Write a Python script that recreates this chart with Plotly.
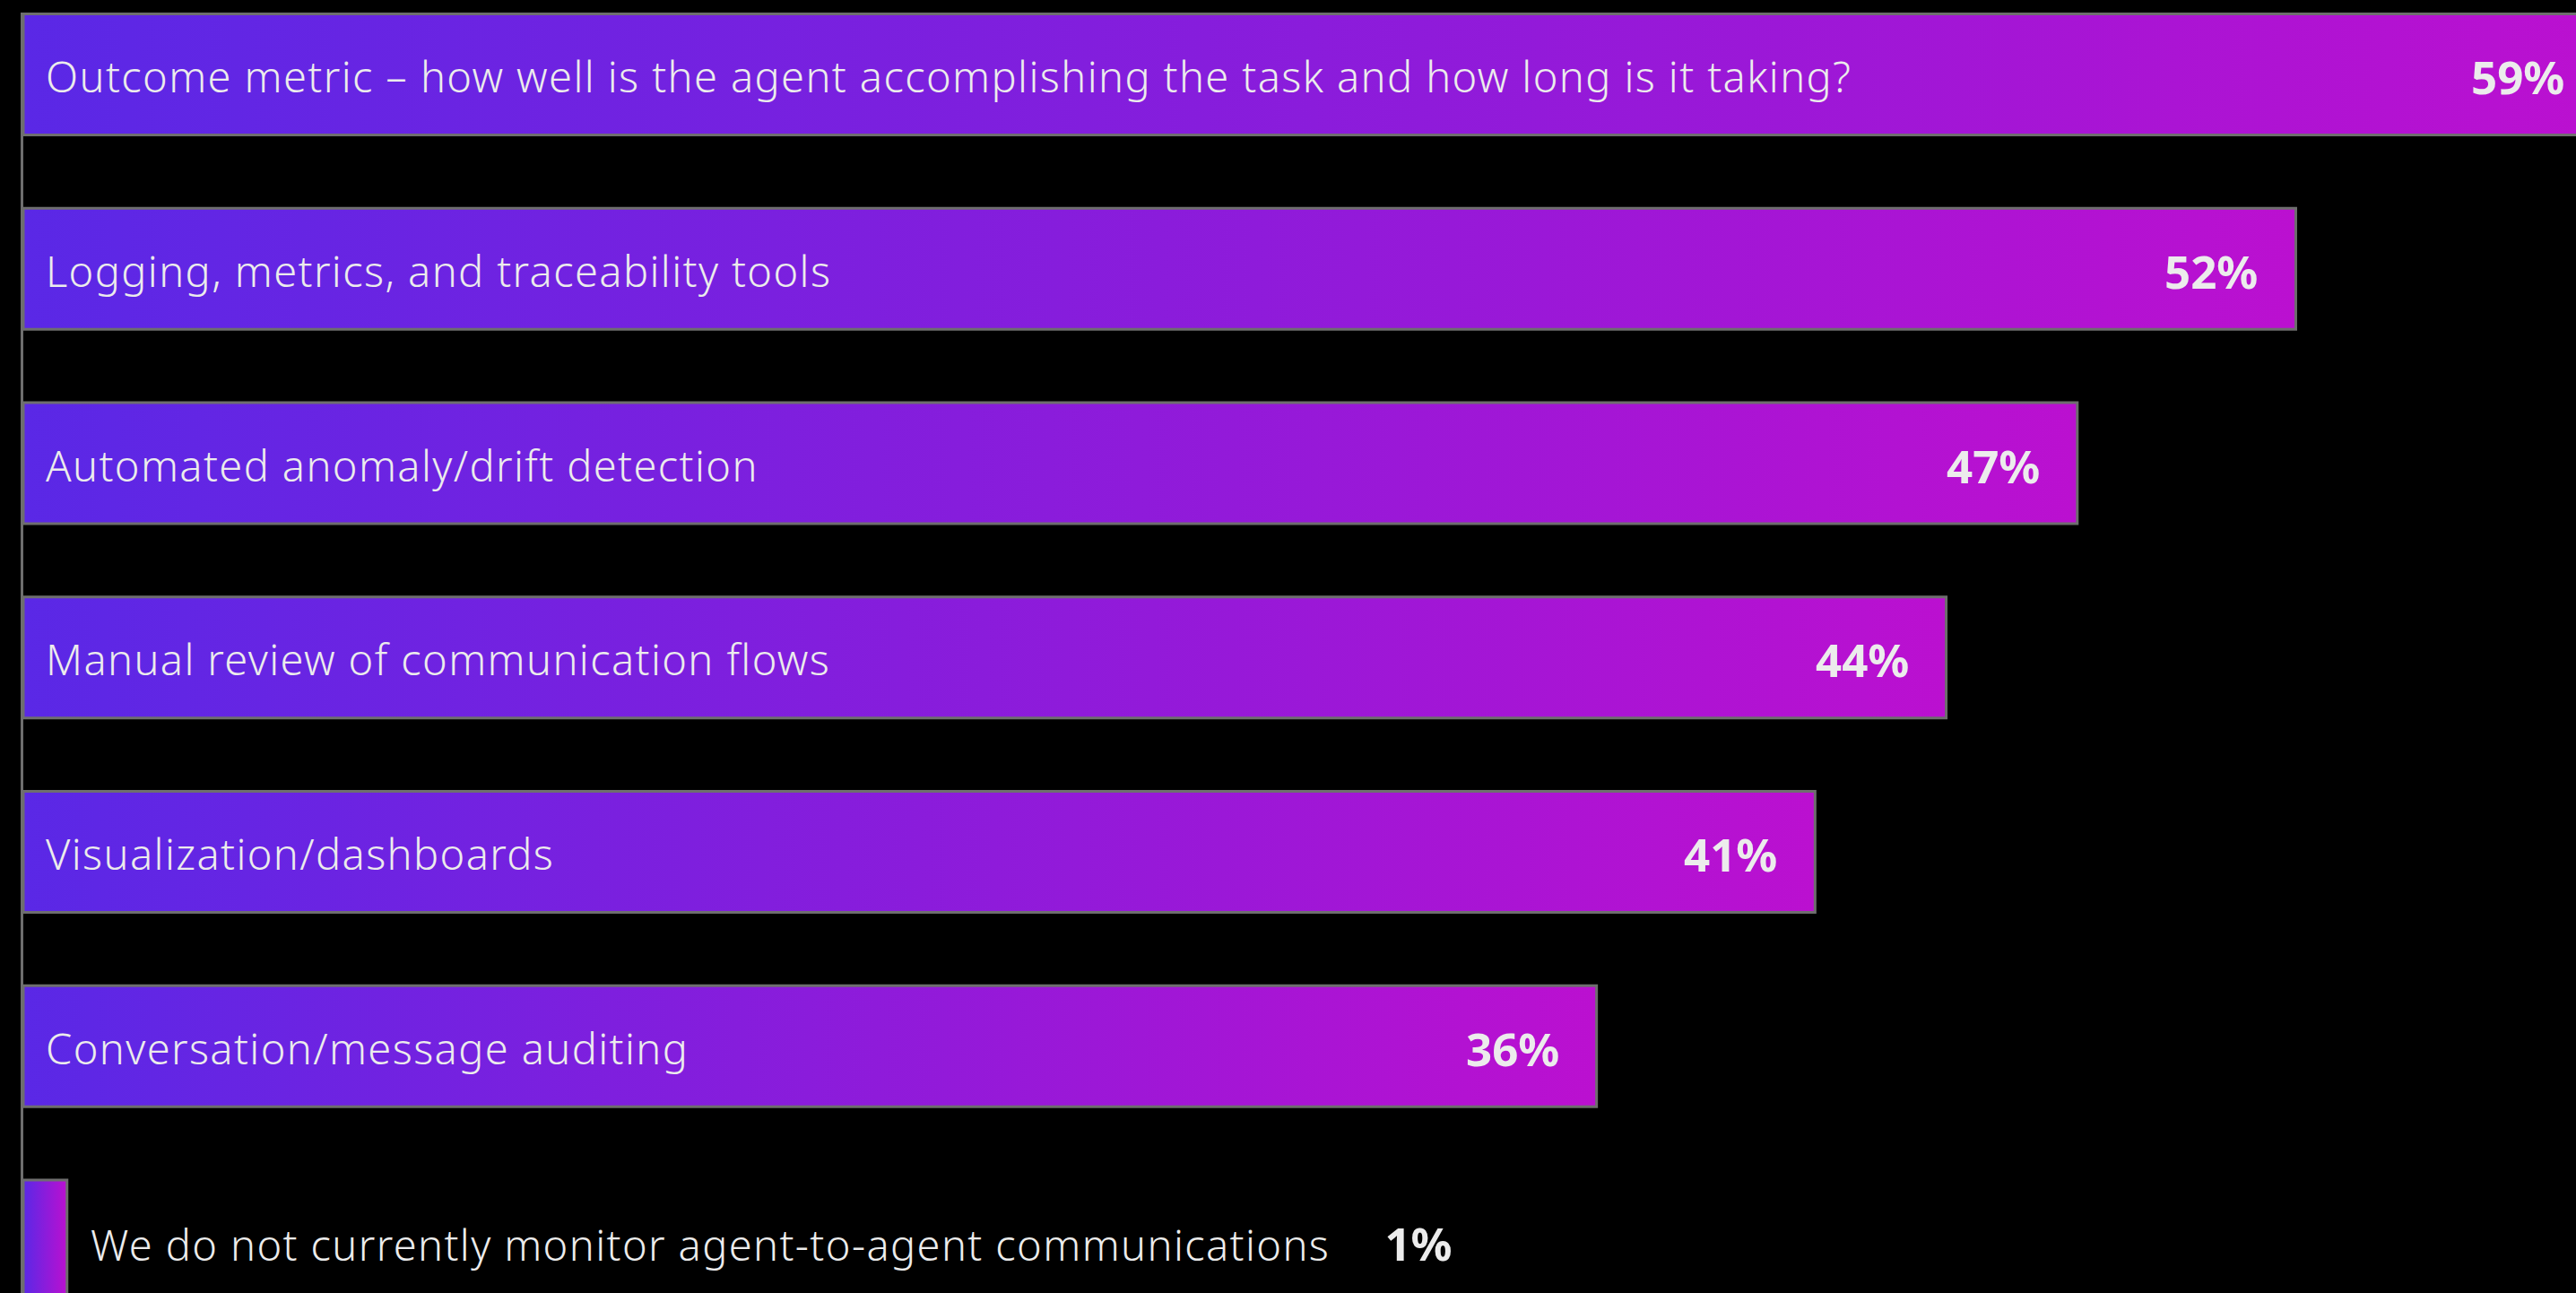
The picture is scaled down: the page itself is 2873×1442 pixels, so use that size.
import plotly.graph_objects as go

# Survey responses: how agent-to-agent communications are monitored
categories = [
    "Outcome metric – how well is the agent accomplishing the task and how long is it taking?",
    "Logging, metrics, and traceability tools",
    "Automated anomaly/drift detection",
    "Manual review of communication flows",
    "Visualization/dashboards",
    "Conversation/message auditing",
    "We do not currently monitor agent-to-agent communications",
]
values = [59, 52, 47, 44, 41, 36, 1]
value_labels = [f"{v}%" for v in values]

W, H = 2873, 1442
MARGIN_L, MARGIN_T = 26, 14
PX_PER_UNIT_X = 48.74          # pixels per percentage point
PX_PER_ROW = 216.75            # pixels per category row
BAR_HALF = 0.3115              # half bar thickness, in rows

x_max = (W - MARGIN_L) / PX_PER_UNIT_X
y_top = -BAR_HALF - 1.5 / PX_PER_ROW
y_bottom = y_top + (H - MARGIN_T) / PX_PER_ROW

GRAD = [[0.0, "#5a28e6"], [1.0, "#bb10d0"]]
OUTLINE = "#6e6e6e"
TEXT = "#ececec"
FONT = "Noto Sans"
SPACED = "<span style='letter-spacing:1.4px'>{}</span>"

fig = go.Figure()

for i, (cat, v) in enumerate(zip(categories, values)):
    fig.add_trace(go.Scatter(
        x=[0, v, v, 0, 0],
        y=[i - BAR_HALF, i - BAR_HALF, i + BAR_HALF, i + BAR_HALF, i - BAR_HALF],
        mode="lines",
        fill="toself",
        fillgradient=dict(type="horizontal", colorscale=GRAD),
        line=dict(color=OUTLINE, width=3),
        hoverinfo="skip",
        showlegend=False,
    ))

inner_pad = 23 / PX_PER_UNIT_X
value_pad = 40 / PX_PER_UNIT_X
label_shift = -2  # nudge labels slightly down to sit on the bar centre
annotations = []
for i, (cat, v, lab) in enumerate(zip(categories, values, value_labels)):
    if v >= 5:
        annotations.append(dict(
            x=inner_pad, y=i, xref="x", yref="y", text=SPACED.format(cat),
            xanchor="left", yanchor="middle", showarrow=False, yshift=label_shift,
            font=dict(family=FONT, size=47, color=TEXT, weight=300),
        ))
        annotations.append(dict(
            x=v - value_pad, y=i, xref="x", yref="y", text=lab,
            xanchor="right", yanchor="middle", showarrow=False, yshift=label_shift,
            font=dict(family=FONT, size=51, color=TEXT, weight=700),
        ))
    else:
        gap = "\u00a0" * 5
        annotations.append(dict(
            x=v + 24 / PX_PER_UNIT_X, y=i, xref="x", yref="y",
            text=(SPACED.format(cat) + gap
                  + f"<span style='font-size:51px;font-weight:700'>{lab}</span>"),
            xanchor="left", yanchor="middle", showarrow=False, yshift=label_shift,
            font=dict(family=FONT, size=47, color=TEXT, weight=300),
        ))

fig.update_layout(
    width=W, height=H,
    margin=dict(l=MARGIN_L, r=0, t=MARGIN_T, b=0, pad=0),
    paper_bgcolor="#000000",
    plot_bgcolor="#000000",
    showlegend=False,
    annotations=annotations,
    xaxis=dict(range=[0, x_max], visible=False, fixedrange=True),
    yaxis=dict(
        range=[y_bottom, y_top],
        showline=True, linecolor=OUTLINE, linewidth=3,
        showticklabels=False, showgrid=False, zeroline=False, ticks="",
        fixedrange=True,
    ),
)

fig.write_html("out.html", config={"displayModeBar": False})
